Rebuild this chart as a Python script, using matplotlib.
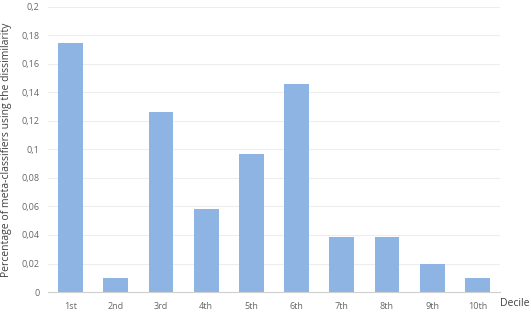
import matplotlib
matplotlib.use("Agg")
import matplotlib.pyplot as plt

# data
deciles = ["1st", "2nd", "3rd", "4th", "5th", "6th", "7th", "8th", "9th", "10th"]
values = [0.1748, 0.0097, 0.1262, 0.0583, 0.0971, 0.1456, 0.0388, 0.0388, 0.0194, 0.0097]
yticks = [0, 0.02, 0.04, 0.06, 0.08, 0.1, 0.12, 0.14, 0.16, 0.18, 0.2]
ytick_labels = ["0", "0,02", "0,04", "0,06", "0,08", "0,1", "0,12", "0,14", "0,16", "0,18", "0,2"]

plt.rcParams['font.family'] = ['Open Sans', 'DejaVu Sans']

fig = plt.figure(figsize=(5.31, 3.14), dpi=100)
ax = fig.add_axes([0.0904, 0.070, 0.8512, 0.908])

x = range(len(deciles))
ax.bar(x, values, width=0.55, color="#8DB4E2", zorder=2)

ax.set_xlim(-0.5, len(deciles) - 0.5)
ax.set_ylim(0, 0.2)
ax.set_yticks(yticks)
ax.set_yticklabels(ytick_labels)
ax.set_xticks(list(x))
ax.set_xticklabels(deciles)

ax.grid(axis="y", color="#EDEDED", linewidth=0.8, zorder=0)
for s in ["top", "right", "left"]:
    ax.spines[s].set_visible(False)
ax.spines["bottom"].set_color("#D0D0D0")
ax.spines["bottom"].set_linewidth(0.8)
ax.tick_params(axis="both", length=0, labelsize=6.5, labelcolor="#666666")
ax.tick_params(axis="x", pad=7)
ax.tick_params(axis="y", pad=6)

ax.set_ylabel("Percentage of meta-classifiers using the dissimilarity", fontsize=7.5, color="#404040", labelpad=7)
fig.text(0.998, 0.035, "Decile", fontsize=7.5, color="#404040", ha="right", va="center")

fig.savefig("out.png", dpi=100)
